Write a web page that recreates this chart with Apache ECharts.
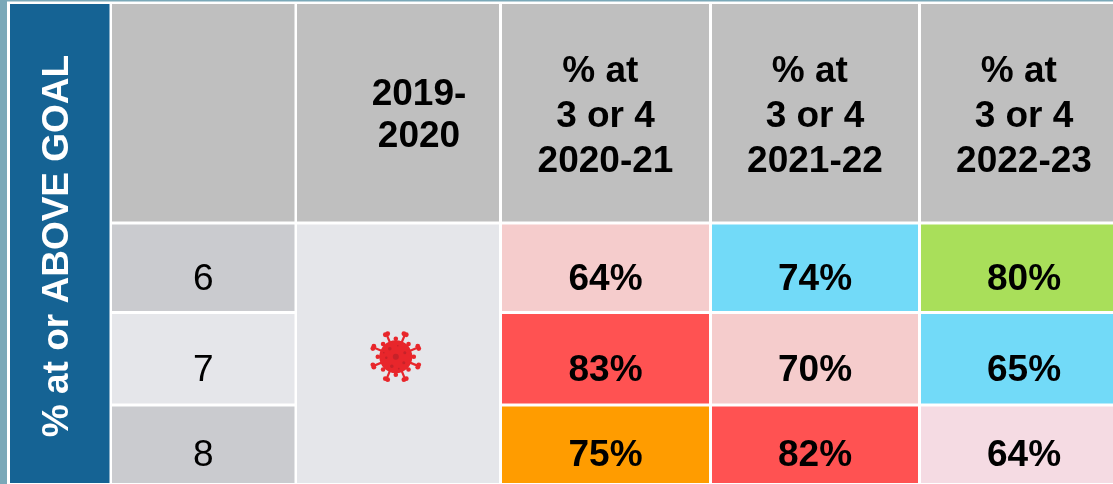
<!DOCTYPE html>
<html>
<head>
<meta charset="utf-8">
<style>
html, body { margin: 0; padding: 0; background: #fff; }
#chart { width: 1113px; height: 484px; }
</style>
<script src="https://cdn.jsdelivr.net/npm/echarts@6/dist/echarts.min.js"></script>
</head>
<body>
<div id="chart"></div>
<script>
// table contents
var sideTitle = '% at or ABOVE GOAL'
var grades = ['6', '7', '8']
var headers = ['2019-\n2020', '% at \n3 or 4\n2020-21', '% at \n3 or 4\n2021-22', '% at \n3 or 4\n2022-23']
var pct2021 = [64, 83, 75]
var pct2122 = [74, 70, 82]
var pct2223 = [80, 65, 64]

// cell fills, same order as the values
var fill2021 = ['#F5CCCC', '#FF5252', '#FF9C00']
var fill2122 = ['#72DAF8', '#F5CCCC', '#FF5252']
var fill2223 = ['#A9DF5A', '#72DAF8', '#F5DBE3']
var gradeFill = ['#CACBCF', '#E5E6EA', '#CACBCF']

// table layout, last column runs past the page edge in the original
var colEdges = [[112, 294.5], [297, 499], [502, 709], [712, 918], [921, 1127]]
var rowEdges = [[4, 221.5], [224.5, 311], [314, 403.5], [406.5, 483]]
var FONT = '"Liberation Sans", Arial, sans-serif'

// [column, row, text, fill]  row 0 is the header
var cells = []
cells.push([0, 0, '', '#BFBFBF'])
headers.forEach(function(h, i) {
  cells.push([i + 1, 0, h, '#BFBFBF'])
})
grades.forEach(function(g, i) {
  cells.push([0, i + 1, g, gradeFill[i]])
  cells.push([2, i + 1, pct2021[i] + '%', fill2021[i]])
  cells.push([3, i + 1, pct2122[i] + '%', fill2122[i]])
  cells.push([4, i + 1, pct2223[i] + '%', fill2223[i]])
})

function renderCell(params, api) {
  var col = api.value(0)
  var row = api.value(1)
  var item = cells[params.dataIndex]
  var tl = api.coord([colEdges[col][0], rowEdges[row][0]])
  var br = api.coord([colEdges[col][1], rowEdges[row][1]])
  var children = [{
    type: 'rect',
    shape: { x: tl[0], y: tl[1], width: br[0] - tl[0], height: br[1] - tl[1] },
    style: { fill: item[3] }
  }]
  if (item[2]) {
    var cx = (tl[0] + br[0]) / 2
    var cy = (tl[1] + br[1]) / 2
    var isHeader = row === 0
    var lineHeight = 45
    if (isHeader && col === 1) {
      cx += 21
      cy += 3
      lineHeight = 42
    } else if (isHeader) {
      cy += 4.5
    } else {
      cy += 12
    }
    if (row === 3) cy = 456
    children.push({
      type: 'text',
      style: {
        x: cx,
        y: cy,
        text: item[2],
        align: 'center',
        verticalAlign: 'middle',
        fill: '#000',
        lineHeight: lineHeight,
        font: (col === 0 ? '' : 'bold ') + '37px ' + FONT
      }
    })
  }
  return { type: 'group', children: children }
}

function renderFrame(params, api) {
  var tl = api.coord([0, 0])
  var left = api.coord([7, 1.5])
  var blueA = api.coord([10, 4])
  var blueB = api.coord([109.5, 483])
  return {
    type: 'group',
    children: [
      { type: 'rect', shape: { x: tl[0], y: tl[1], width: 1113, height: left[1] }, style: { fill: '#7AA8B8' } },
      { type: 'rect', shape: { x: tl[0], y: tl[1], width: left[0], height: 484 }, style: { fill: '#7AA8B8' } },
      { type: 'rect', shape: { x: blueA[0], y: blueA[1], width: blueB[0] - blueA[0], height: blueB[1] - blueA[1] }, style: { fill: '#156394' } },
      {
        type: 'text',
        x: 58,
        y: 246,
        rotation: Math.PI / 2,
        style: {
          x: 0,
          y: 0,
          text: sideTitle,
          align: 'center',
          verticalAlign: 'middle',
          fill: '#fff',
          font: 'bold 37px ' + FONT
        }
      }
    ]
  }
}

// merged 2019-2020 cell with the virus picture in the middle
function renderCovid(params, api) {
  var tl = api.coord([colEdges[1][0], rowEdges[1][0]])
  var br = api.coord([colEdges[1][1], rowEdges[3][1]])
  var c = api.coord([395.8, 356.7])
  var children = [{
    type: 'rect',
    shape: { x: tl[0], y: tl[1], width: br[0] - tl[0], height: br[1] - tl[1] },
    style: { fill: '#E5E6EA' }
  }]
  var red = '#E8262B'
  var dark = '#C62229'
  for (var i = 0; i < 8; i++) {
    var a = Math.PI / 8 + i * Math.PI / 4
    var b = i * Math.PI / 4
    var ca = Math.cos(a)
    var sa = Math.sin(a)
    children.push({
      type: 'line',
      shape: { x1: c[0], y1: c[1], x2: c[0] + 24 * ca, y2: c[1] + 24 * sa },
      style: { stroke: red, lineWidth: 2.2 }
    })
    // the long spikes end in a double bulb
    children.push({ type: 'circle', shape: { cx: c[0] + 24.3 * ca - 1.3 * sa, cy: c[1] + 24.3 * sa + 1.3 * ca, r: 2.4 }, style: { fill: red } })
    children.push({ type: 'circle', shape: { cx: c[0] + 24.3 * ca + 1.3 * sa, cy: c[1] + 24.3 * sa - 1.3 * ca, r: 2.4 }, style: { fill: red } })
    children.push({ type: 'line', shape: { x1: c[0], y1: c[1], x2: c[0] + 18 * Math.cos(b), y2: c[1] + 18 * Math.sin(b) }, style: { stroke: red, lineWidth: 1.6 } })
    children.push({ type: 'circle', shape: { cx: c[0] + 18 * Math.cos(b), cy: c[1] + 18 * Math.sin(b), r: 2.3 }, style: { fill: red } })
  }
  children.push({ type: 'circle', shape: { cx: c[0], cy: c[1], r: 16.5 }, style: { fill: red } })
  children.push({ type: 'circle', shape: { cx: c[0], cy: c[1], r: 3 }, style: { fill: dark } })
  var spots = [[-6, -8, 1.8], [9, -4, 1.5], [8, 6, 1.5], [-4, 9.5, 1.8], [-9.5, 1, 1.2], [3, 12, 0.9], [2, -11, 0.8], [-12, -4, 0.8]]
  spots.forEach(function(s) {
    children.push({ type: 'circle', shape: { cx: c[0] + s[0], cy: c[1] + s[1], r: s[2] }, style: { fill: dark } })
  })
  return { type: 'group', children: children }
}

var chart = echarts.init(document.getElementById('chart'), null, { renderer: 'canvas' })
chart.setOption({
  animation: false,
  backgroundColor: '#fff',
  tooltip: { show: false },
  grid: { left: 0, right: 0, top: 0, bottom: 0 },
  xAxis: { type: 'value', min: 0, max: 1113, show: false },
  yAxis: { type: 'value', min: 0, max: 484, inverse: true, show: false },
  series: [
    { type: 'custom', silent: true, clip: true, renderItem: renderFrame, data: [[0, 0]] },
    { type: 'custom', silent: true, clip: true, renderItem: renderCovid, data: [[1, 1]] },
    {
      type: 'custom',
      silent: true,
      clip: true,
      renderItem: renderCell,
      encode: { x: 0, y: 1 },
      data: cells.map(function(c) { return [c[0], c[1]] })
    }
  ]
})
window.addEventListener('resize', function() {
  chart.resize()
})
</script>
</body>
</html>
